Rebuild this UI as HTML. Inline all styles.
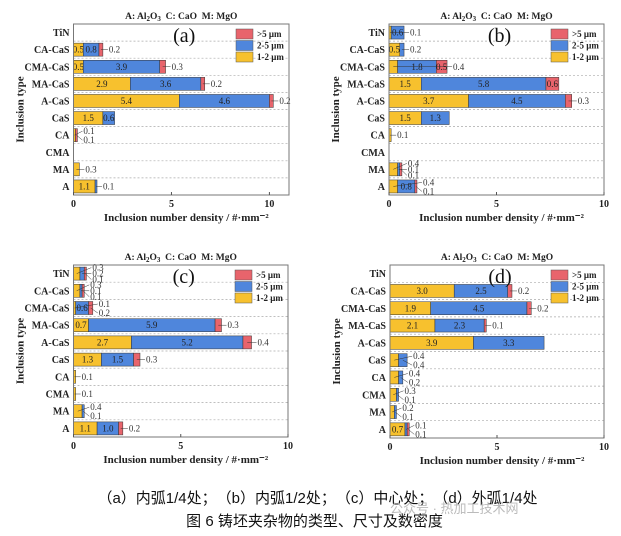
<!DOCTYPE html>
<html><head><meta charset="utf-8">
<style>
body{margin:0;background:#fff;width:621px;height:536px;overflow:hidden;position:relative;font-family:"Liberation Serif","Noto Serif CJK SC",serif}
svg{position:absolute;left:0;top:0}
.cap{position:absolute;left:0;width:621px;text-align:center;font-family:"Liberation Sans","Noto Sans CJK SC",sans-serif;color:#111}
</style></head><body>
<svg id="chart" width="621" height="480"></svg>
<div class="cap" style="top:487px;font-size:15px;left:7px">（a）内弧1/4处；　（b）内弧1/2处；　（c）中心处；　（d）外弧1/4处</div>
<div class="cap" style="top:510px;font-size:15px;left:4px">图 6 铸坯夹杂物的类型、尺寸及数密度</div>
<div style="position:absolute;left:390px;top:498px;font-size:13px;color:#bbb;font-family:'Liberation Sans','Noto Sans CJK SC',sans-serif">公众号 · 热加工技术网</div>
<script>
const categories = ["TiN","CA-CaS","CMA-CaS","MA-CaS","A-CaS","CaS","CA","CMA","MA","A"];
const panelLabels = ["(a)","(b)","(c)","(d)"];
const xMaxes = [11,10,10,10];
const xTicks = [0,5,10];
// values per panel: [1-2 µm, 2-5 µm, >5 µm] for each category
const aSmall = [0,0.5,0.5,2.9,5.4,1.5,0.1,0,0.3,1.1];
const aMid   = [0,0.8,3.9,3.6,4.6,0.6,0,0,0,0.1];
const aLarge = [0,0.2,0.3,0.2,0.2,0,0.1,0,0,0];
const bSmall = [0.1,0.5,0.4,1.5,3.7,1.5,0.1,0,0.4,0.4];
const bMid   = [0.6,0.2,1.8,5.8,4.5,1.3,0,0,0.1,0.8];
const bLarge = [0,0,0.5,0.6,0.3,0,0,0,0.1,0.1];
const cSmall = [0.3,0.3,0.1,0.7,2.7,1.3,0.1,0.1,0.4,1.1];
const cMid   = [0.2,0.1,0.6,5.9,5.2,1.5,0,0,0.1,1.0];
const cLarge = [0.1,0.1,0.2,0.3,0.4,0.3,0,0,0,0.2];
const dSmall = [0,3.0,1.9,2.1,3.9,0.4,0.4,0.3,0.2,0.7];
const dMid   = [0,2.5,4.5,2.3,3.3,0.4,0.2,0.1,0.1,0.1];
const dLarge = [0,0.2,0.2,0.1,0,0,0,0,0,0.1];
const seriesNames = [">5 μm","2-5 μm","1-2 μm"];
const colors = ["#f7c12e","#4f86dc","#e8646c"];

const data = [[aSmall,aMid,aLarge],[bSmall,bMid,bLarge],[cSmall,cMid,cLarge],[dSmall,dMid,dLarge]];
const boxes = [[73.5,24,289,195],[389,24,604,195],[73.5,265,288,437],[390,265,604,438]];
const svg = document.getElementById('chart');
const NS = "http://www.w3.org/2000/svg";
function mk(tag, attrs, parent){const e=document.createElementNS(NS,tag);for(const k in attrs)e.setAttribute(k,attrs[k]);(parent||svg).appendChild(e);return e;}
function txt(s, attrs, parent){const e=mk('text',attrs,parent);e.textContent=s;return e;}

data.forEach((series,p)=>{
  const [x0,y0,x1,y1]=boxes[p];
  const g=mk('g',{});
  
  
  const xs=v=>x0+v*(x1-x0)/xMaxes[p];
  const rowH=(y1-y0)/categories.length;
  const yc=i=>y0+(i+0.5)*rowH;
  for(let i=1;i<categories.length;i++){
    const l=mk('line',{x1:x0,x2:x1,y1:y0+i*rowH,y2:y0+i*rowH,stroke:'#aaa','stroke-width':0.7,'stroke-dasharray':'2,2'},g);
    
    
  }
  categories.forEach((c,i)=>{
    let acc=0; const small=[];
    series.forEach((arr,s)=>{
      const v=arr[i]; if(v<=0) return;
      const xa=xs(acc), xb=xs(acc+v);
      const r=mk('rect',{x:xa,y:yc(i)-6.5,width:xb-xa,height:13,fill:colors[s],stroke:'#333','stroke-width':0.5},g);
      
      
      if(xb-xa>9.5){
        const t=txt(v.toFixed(1),{x:(xa+xb)/2,y:yc(i)+3,'text-anchor':'middle','font-size':9,fill:'#222'},g);
        
        
      } else small.push([v,(xa+xb)/2]);
      acc+=v;
    });
    const end=xs(acc);
    const offs=small.length===1?[0]:small.length===2?[-4,5]:[-6,0,6];
    small.forEach((s,k)=>{
      const ty=yc(i)+offs[k];
      mk('line',{x1:s[1],y1:yc(i),x2:end+5,y2:ty,stroke:'#333','stroke-width':0.5},g);
      const t=txt(s[0].toFixed(1),{x:end+6,y:ty+3,'font-size':9,fill:'#333'},g);
      
      
    });
    const yl=txt(c,{x:x0-4,y:yc(i)+3.5,'text-anchor':'end','font-size':10,'font-weight':'bold',fill:'#222'},g);
    
    
  });
  const fr=mk('rect',{x:x0,y:y0,width:x1-x0,height:y1-y0,fill:'none',stroke:'#777','stroke-width':1},g);
  
  
  xTicks.forEach(t=>{
    mk('line',{x1:xs(t),x2:xs(t),y1:y1,y2:y1-3,stroke:'#555'},g);
    const tl=txt(String(t),{x:xs(t),y:y1+12,'text-anchor':'middle','font-size':10,'font-weight':'bold',fill:'#222'},g);
    
    
  });
  const xt=txt('Inclusion number density / #·mm⁻²',{x:(x0+x1)/2+5,y:y1+26,'text-anchor':'middle','font-size':11,'font-weight':'bold',fill:'#222'},g);
  
  
  const yt=txt('Inclusion type',{x:0,y:0,'text-anchor':'middle','font-size':11,'font-weight':'bold',fill:'#222',transform:`translate(${x0-50},${(y0+y1)/2}) rotate(-90)`},g);
  
  
  const tt=mk('text',{x:(x0+x1)/2,y:y0-5,'text-anchor':'middle','font-size':9.5,'font-weight':'bold',fill:'#222'},g);
  tt.innerHTML='A: Al<tspan dy="2" font-size="7">2</tspan><tspan dy="-2">O</tspan><tspan dy="2" font-size="7">3</tspan><tspan dy="-2">\u00a0\u00a0C: CaO\u00a0\u00a0M: MgO</tspan>';
  
  
  const pl=txt(panelLabels[p],{x:(x0+x1)/2+3,y:y0+18,'text-anchor':'middle','font-size':20,fill:'#111'},g);
  
  
  const lx=x1-53;
  [2,1,0].forEach((s,k)=>{
    const ly=y0+5+k*11.5;
    const sw=mk('rect',{x:lx,y:ly,width:17,height:10,fill:colors[s],stroke:'#555','stroke-width':0.5},g);
    
    
    const lt=txt(seriesNames[k],{x:lx+21,y:ly+8,'font-size':9,'font-weight':'bold',fill:'#222'},g);
    
    
  });
});
</script>
</body></html>
